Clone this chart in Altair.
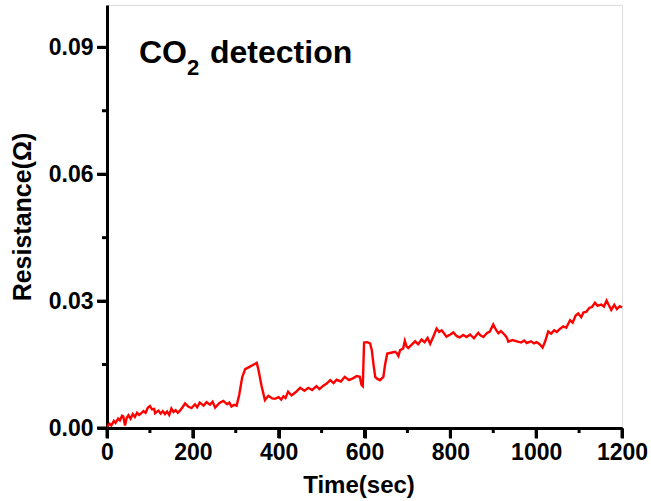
import altair as alt
import pandas as pd

time_sec = [0, 6, 10, 16, 20, 26, 30, 35, 38, 42, 46, 50, 55, 60, 65, 70, 75, 80, 85, 90, 95, 100,
            105, 110, 112, 120, 125, 130, 135, 140, 145, 150, 155, 160, 165, 170, 176,
            182, 190, 197, 205, 210, 216, 225, 232, 240, 246, 252, 262, 271, 280, 285, 290, 296,
            302, 308, 315, 322, 333, 342, 349, 353, 360, 368, 376, 385, 391, 400, 406, 411, 416,
            422, 430, 440, 450, 460, 469, 478, 488, 495, 504, 512, 520, 528, 535, 545, 554, 564,
            574, 582, 589, 593, 596, 599, 606, 613, 617, 621, 625, 630, 636, 644, 648, 653, 662,
            671, 675, 679, 683, 690, 694, 698, 702, 710, 718, 725, 733, 740, 747, 753, 760, 768,
            774, 780, 786, 791, 800, 807, 815, 822, 830, 838, 846, 855, 865, 870, 877, 885, 892,
            900, 906, 912, 918, 927, 932, 935, 945, 955, 965, 972, 978, 988, 995, 1001, 1008,
            1015, 1021, 1028, 1035, 1042, 1048, 1056, 1063, 1070, 1079, 1085, 1092, 1098, 1105,
            1110, 1117, 1124, 1130, 1137, 1143, 1152, 1158, 1164, 1170, 1175, 1182, 1188, 1195,
            1200]
resistance = [0.0003, 0.0010, 0.0006, 0.0017, 0.0012, 0.0022, 0.0018, 0.0029, 0.0027, 0.0006,
              0.0024, 0.0030, 0.0022, 0.0033, 0.0026, 0.0036, 0.0031, 0.0035, 0.0040, 0.0036,
              0.0048, 0.0052, 0.0044, 0.0045, 0.0035, 0.0041, 0.0034, 0.0040, 0.0033, 0.0039,
              0.0031, 0.0046, 0.0038, 0.0042, 0.0036, 0.0041, 0.0049, 0.0058, 0.0050, 0.0047,
              0.0056, 0.0049, 0.0060, 0.0053, 0.0061, 0.0055, 0.0062, 0.0048, 0.0059, 0.0064,
              0.0056, 0.0060, 0.0051, 0.0055, 0.0053, 0.0078, 0.0120, 0.0139, 0.0145, 0.0150,
              0.0154, 0.0137, 0.0100, 0.0066, 0.0076, 0.0070, 0.0069, 0.0073, 0.0067, 0.0075,
              0.0071, 0.0086, 0.0077, 0.0085, 0.0095, 0.0088, 0.0095, 0.0090, 0.0099, 0.0092,
              0.0100, 0.0105, 0.0113, 0.0106, 0.0114, 0.0110, 0.0121, 0.0113, 0.0118, 0.0123,
              0.0121, 0.0102, 0.0099, 0.0202, 0.0203, 0.0200, 0.0184, 0.0150, 0.0121, 0.0116,
              0.0113, 0.0121, 0.0150, 0.0176, 0.0178, 0.0180, 0.0177, 0.0170, 0.0184, 0.0188,
              0.0206, 0.0193, 0.0189, 0.0197, 0.0205, 0.0198, 0.0209, 0.0203, 0.0213, 0.0199,
              0.0215, 0.0235, 0.0227, 0.0231, 0.0223, 0.0216, 0.0221, 0.0226, 0.0217, 0.0214,
              0.0220, 0.0215, 0.0221, 0.0212, 0.0225, 0.0219, 0.0215, 0.0224, 0.0228, 0.0245,
              0.0233, 0.0224, 0.0229, 0.0220, 0.0213, 0.0204, 0.0208, 0.0205, 0.0202, 0.0207,
              0.0201, 0.0205, 0.0200, 0.0203, 0.0198, 0.0190, 0.0205, 0.0228, 0.0223, 0.0231,
              0.0227, 0.0235, 0.0240, 0.0237, 0.0255, 0.0249, 0.0266, 0.0271, 0.0262, 0.0273,
              0.0275, 0.0284, 0.0286, 0.0296, 0.0289, 0.0292, 0.0287, 0.0301, 0.0289, 0.0279,
              0.0291, 0.0281, 0.0288, 0.0285]

x_major = [0, 200, 400, 600, 800, 1000, 1200]
x_minor = [100, 300, 500, 700, 900, 1100]
y_major = [0.0, 0.03, 0.06, 0.09]
y_minor = [0.015, 0.045, 0.075]
title_parts = ["CO", "2", "detection"]

W, H = 515, 423
df = pd.DataFrame({"t": time_sec, "r": resistance})

FONT = "Liberation Sans"

xscale = alt.Scale(domain=[0, 1200], nice=False, zero=False)
yscale = alt.Scale(domain=[0, 0.1], nice=False)

main = alt.Chart(df).mark_line(color="#ff0000", strokeWidth=2.4).encode(
    x=alt.X("t:Q", scale=xscale,
            axis=alt.Axis(orient="bottom", values=x_major, format="d", title="Time(sec)",
                          ticks=True, tickSize=10, tickWidth=3, tickColor="black",
                          domainColor="black", domainWidth=3,
                          labelFont=FONT, labelFontSize=23, labelFontWeight="bold",
                          labelColor="black", labelPadding=3, labelFlush=False,
                          titleFont=FONT, titleFontSize=24, titleFontWeight="bold",
                          titleColor="black", titlePadding=9, titleX=W / 2 - 6,
                          grid=False)),
    y=alt.Y("r:Q", scale=yscale,
            axis=alt.Axis(orient="left", values=y_major, format=".2f", title="Resistance(Ω)",
                          ticks=True, tickSize=10, tickWidth=3, tickColor="black",
                          domainColor="black", domainWidth=3,
                          labelFont=FONT, labelFontSize=23, labelFontWeight="bold",
                          labelColor="black", labelPadding=4, labelFlush=False,
                          titleFont=FONT, titleFontSize=25, titleFontWeight="bold",
                          titleColor="black", titlePadding=13, grid=False)),
)

def xticks(vals, length):
    d = pd.DataFrame({"tv": vals})
    return alt.Chart(d).mark_rule(color="black", strokeWidth=3).encode(
        x=alt.X("tv:Q", scale=xscale, axis=None),
        y=alt.value(H), y2=alt.value(H + length))

def yticks(vals, length):
    d = pd.DataFrame({"rv": vals})
    return alt.Chart(d).mark_rule(color="black", strokeWidth=3).encode(
        y=alt.Y("rv:Q", scale=yscale, axis=None),
        x=alt.value(0), x2=alt.value(-length))

def part(i, size, xpx, ypx):
    d = pd.DataFrame({"label": [title_parts[i]]})
    return alt.Chart(d).mark_text(font=FONT, fontSize=size, fontWeight="bold",
                                  align="left", baseline="alphabetic", color="black").encode(
        text="label:N", x=alt.value(xpx), y=alt.value(ypx))

chart = alt.layer(
    main,
    xticks(x_major, 10), xticks(x_minor, 5),
    yticks(y_major, 10), yticks(y_minor, 5),
    part(0, 32, 32, 58), part(1, 22, 80, 70), part(2, 32, 103, 58),
).resolve_axis(
    x="independent", y="independent"
).properties(
    width=W, height=H,
    autosize=alt.AutoSizeParams(type="none"),
    padding={"left": 107, "top": 5, "right": 29, "bottom": 73},
).configure_view(stroke="black", strokeWidth=3).configure(background="white")

chart.save("out.html", embed_options={"renderer": "svg", "actions": False})
